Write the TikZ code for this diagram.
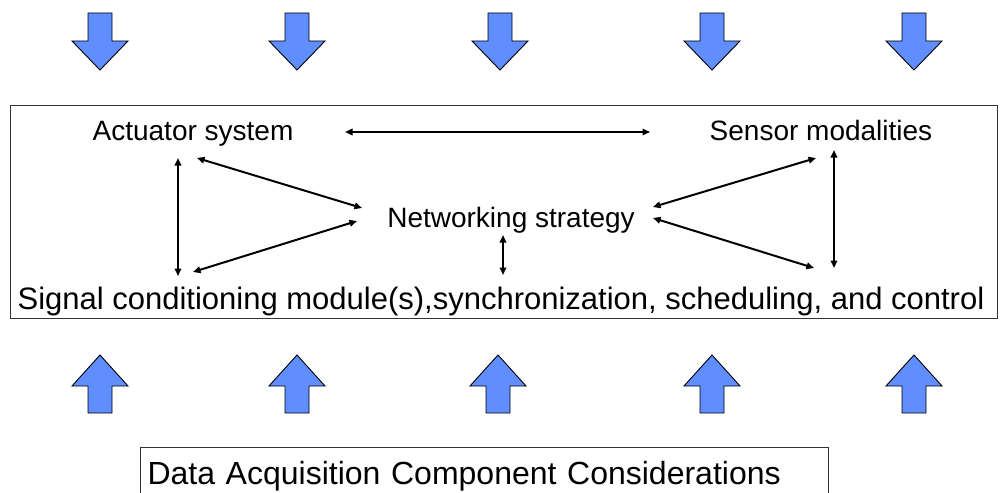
\documentclass[tikz,border=0pt]{standalone}
\usepackage{fontspec}
\setmainfont{Liberation Sans}
\usetikzlibrary{arrows.meta,calc}

\definecolor{blockblue}{RGB}{96,142,255}

\begin{document}
\begin{tikzpicture}[
      x=1pt,y=-1pt,
      every node/.style={font=\fontsize{28}{34}\selectfont,inner sep=0pt},
      lbl/.style={anchor=base},
      frame/.style={draw=black!80,line width=1pt},
      link/.style={line width=2pt,{Triangle[length=7.5pt,width=6.5pt]}-{Triangle[length=7.5pt,width=6.5pt]}},
      blk/.style={draw=black,line width=0.9pt,fill=blockblue,line join=miter},
      downarr/.pic={\path[blk] (-12,13) -- (12,13) -- (12,41) -- (28,41) -- (0,70) -- (-28,41) -- (-12,41) -- cycle;},
      uparr/.pic={\path[blk] (0,355) -- (28,386) -- (12,386) -- (12,413) -- (-12,413) -- (-12,386) -- (-28,386) -- cycle;}
    ]
    \useasboundingbox (0,0) rectangle (1008,492);
    % outer system box
    \node[frame,minimum width=987,minimum height=212] (sys) at (503.5,212) {};
    % components
    \node[lbl] (act) at (193,140) {Actuator system};
    \node[lbl] (sen) at (821,140) {Sensor modalities};
    \node[lbl] (net) at (511,227) {Networking strategy};
    \node[lbl,font=\fontsize{31}{36}\selectfont] (sig) at (501,309)
      {Signal conditioning module(s),synchronization, scheduling, and control};
    % links between components
    \draw[link] ($(act.base)+(152,-8)$) -- ($(sen.base)+(-171,-8)$);
    \draw[link] ($(act.base)+(-15,18)$) -- ($(sig.base)+(-323,-33)$);
    \draw[link] ($(act.base)+(4,18)$) -- ($(net.base)+(-149,-19)$);
    \draw[link] ($(sig.base)+(-308,-37)$) -- ($(net.base)+(-154,-6)$);
    \draw[link] ($(net.base)+(142,-20)$) -- ($(sen.base)+(-5,18)$);
    \draw[link] ($(net.base)+(142,-9)$) -- ($(sig.base)+(313,-41)$);
    \draw[link] ($(sen.base)+(13,10)$) -- ($(sig.base)+(333,-41)$);
    \draw[link] ($(net.base)+(-8,8)$) -- ($(sig.base)+(2,-34)$);
    % block arrows
    \foreach \x in {100,297,500,712,914}{\pic at (\x,0) {downarr};}
    \foreach \x in {100,297,498,712,914}{\pic at (\x,0) {uparr};}
    % caption box
    \node[frame,anchor=north west,inner xsep=7pt,text width=674,align=left,
      minimum height=58,font=\fontsize{32}{38}\selectfont] (daq) at (140,447)
      {Data Acquisition Component Considerations};
  \end{tikzpicture}
\end{document}
